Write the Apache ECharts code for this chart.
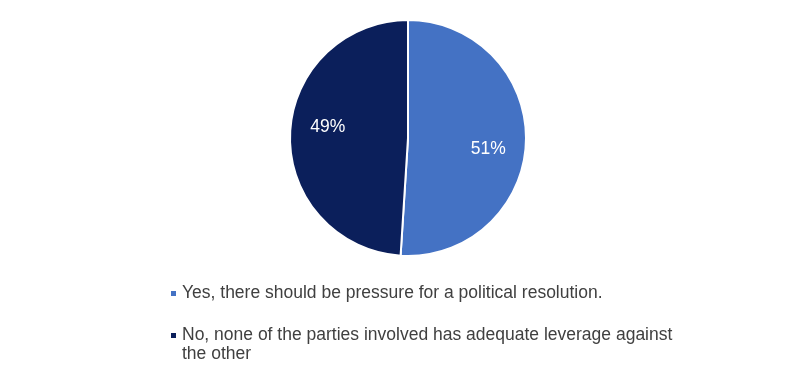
<!DOCTYPE html>
<html>
<head>
<meta charset="utf-8">
<script src="https://cdn.jsdelivr.net/npm/echarts@6/dist/echarts.min.js"></script>
<style>html,body{margin:0;padding:0;background:#fff;}#c{width:800px;height:381px;}</style>
</head>
<body>
<div id="c"></div>
<script>
const categories = [
  'Yes, there should be pressure for a political resolution.',
  'No, none of the parties involved has adequate leverage against the other'
];
const values = [51, 49];
const colors = ['#4472C4', '#0B1F5B'];

const FONT = 'Liberation Sans, Arial, sans-serif';
const chart = echarts.init(document.getElementById('c'), null, {renderer: 'canvas'});
const pieData = categories.map((n, i) => ({name: n, value: values[i], itemStyle: {color: colors[i]}}));
const legendText = {fontSize: 17.5, color: '#404040', width: 500, overflow: 'break', lineHeight: 19, fontFamily: FONT};
chart.setOption({
  animation: false,
  textStyle: {fontFamily: FONT},
  legend: [
    {
      orient: 'vertical',
      left: 164,
      top: 279,
      icon: 'rect',
      itemWidth: 7,
      itemHeight: 7,
      selectedMode: false,
      textStyle: legendText,
      data: [categories[0]]
    },
    {
      orient: 'vertical',
      left: 164,
      top: 302,
      height: 80,
      icon: 'rect',
      itemWidth: 7,
      itemHeight: 7,
      selectedMode: false,
      textStyle: legendText,
      formatter: (name) => '\n' + name,
      data: [categories[1]]
    }
  ],
  series: [
    {
      type: 'pie',
      center: [408, 138],
      radius: [0, 118],
      startAngle: 90,
      clockwise: true,
      silent: true,
      label: {show: false},
      labelLine: {show: false},
      itemStyle: {borderColor: '#fff', borderWidth: 2},
      data: pieData
    },
    {
      type: 'pie',
      center: [408, 138],
      radius: [38, 118],
      startAngle: 84,
      clockwise: true,
      silent: true,
      legendHoverLink: false,
      itemStyle: {color: 'rgba(0,0,0,0)'},
      label: {show: true, position: 'inside', formatter: '{c}%', color: '#fff', fontSize: 17.5, fontFamily: FONT},
      labelLine: {show: false},
      data: categories.map((n, i) => ({name: n + ' ', value: values[i]}))
    }
  ]
});
</script>
</body>
</html>
